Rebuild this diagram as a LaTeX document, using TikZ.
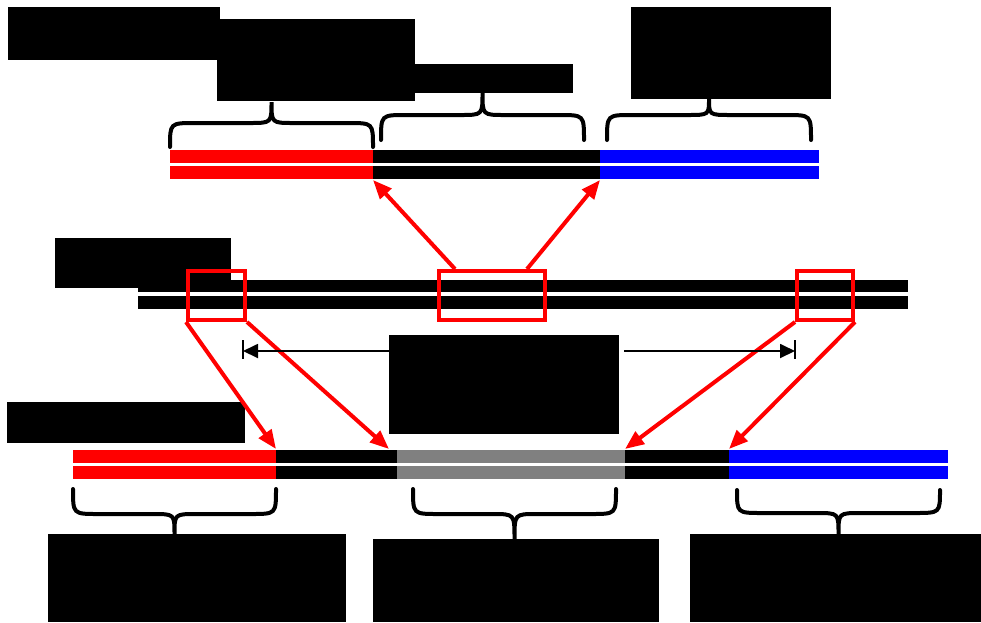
\documentclass[tikz,border=0pt]{standalone}
\usetikzlibrary{arrows.meta}
\begin{document}
\begin{tikzpicture}[x=1pt,y=-1pt,
  redact/.style={fill=black},
  brace/.style={draw=black,line width=4pt,line cap=round},
  zoombox/.style={draw=red,line width=4pt},
  zoomarrow/.style={draw=red,line width=4pt,-{Triangle[length=19pt,width=15pt]}},
  dimline/.style={draw=black,line width=1.8pt},
]
\useasboundingbox (0,0) rectangle (981,622);

% curly brace: x-left, x-right, tip y, bar y, peak y
\newcommand\curlybr[5]{%
  \draw[brace] (#1,#3) .. controls (#1,#4) .. ({#1+25},#4)
    -- ({(#1+#2)/2-22},#4) .. controls ({(#1+#2)/2},#4) .. ({(#1+#2)/2},#5)
    .. controls ({(#1+#2)/2},#4) .. ({(#1+#2)/2+22},#4)
    -- ({#2-25},#4) .. controls (#2,#4) .. (#2,#3);}

% label boxes
\fill[redact] (8,7) rectangle (220,60);
\fill[redact] (217,19) rectangle (415,101);
\fill[redact] (415,64) rectangle (573,93);
\fill[redact] (631,7) rectangle (831,99);
\fill[redact] (55,238) rectangle (231,288);
\fill[redact] (389,335) rectangle (619,434);
\fill[redact] (7,402) rectangle (245,443);
\fill[redact] (48,534) rectangle (346,622);
\fill[redact] (373,539) rectangle (659,622);
\fill[redact] (690,534) rectangle (981,622);

% upper fragment (two strands)
\foreach \ya/\yb in {150/162.5, 166/179}{
  \fill[red] (170,\ya) rectangle (373,\yb);
  \fill[black] (373,\ya) rectangle (600,\yb);
  \fill[blue] (600,\ya) rectangle (819,\yb);
}
\curlybr{170}{373}{147}{123}{102}
\curlybr{381}{584}{140}{115}{93}
\curlybr{607}{811}{140}{115}{99}

% long molecule in the middle
\fill[black] (138,280) rectangle (908,292);
\fill[black] (138,296) rectangle (908,309);

% lower fragment (two strands)
\foreach \ya/\yb in {450/462.5, 466/479}{
  \fill[red] (73,\ya) rectangle (276,\yb);
  \fill[black] (276,\ya) rectangle (397,\yb);
  \fill[gray] (397,\ya) rectangle (625,\yb);
  \fill[black] (625,\ya) rectangle (729,\yb);
  \fill[blue] (729,\ya) rectangle (948,\yb);
}
\curlybr{73}{276}{489}{514}{534}
\curlybr{413}{616}{489}{514}{539}
\curlybr{737}{940}{490}{513}{534}

% selection windows
\node[zoombox,minimum width=57pt,minimum height=49pt,inner sep=0pt,anchor=north west] (w1) at (186,269) {};
\node[zoombox,minimum width=106pt,minimum height=49pt,inner sep=0pt,anchor=north west] (w2) at (437,269) {};
\node[zoombox,minimum width=56pt,minimum height=49pt,inner sep=0pt,anchor=north west] (w3) at (795,269) {};

% targets of the arrows
\coordinate (t1) at (373,180);
\coordinate (t2) at (600,180);
\coordinate (b1) at (276,449);
\coordinate (b2) at (389,449);
\coordinate (b3) at (625,449);
\coordinate (b4) at (729,449);
\coordinate (s2l) at (455,269);
\coordinate (s2r) at (527,269);

\draw[zoomarrow] (s2l) -- (t1);
\draw[zoomarrow] (s2r) -- (t2);
\draw[zoomarrow] (w1.south west) -- (b1);
\draw[zoomarrow] (w1.south east) -- (b2);
\draw[zoomarrow] (w3.south west) -- (b3);
\draw[zoomarrow] (w3.south east) -- (b4);

% distance marker
\coordinate (dl) at (243,351);
\coordinate (dr) at (795,351);
\coordinate (dml) at (389,351);
\coordinate (dmr) at (624,351);
\draw[dimline] (243,340) -- (243,359);
\draw[dimline] (795,340) -- (795,359);
\draw[dimline,-{Triangle[length=15pt,width=14pt]}] (dml) -- (dl);
\draw[dimline,-{Triangle[length=15pt,width=14pt]}] (dmr) -- (dr);
\end{tikzpicture}
\end{document}
